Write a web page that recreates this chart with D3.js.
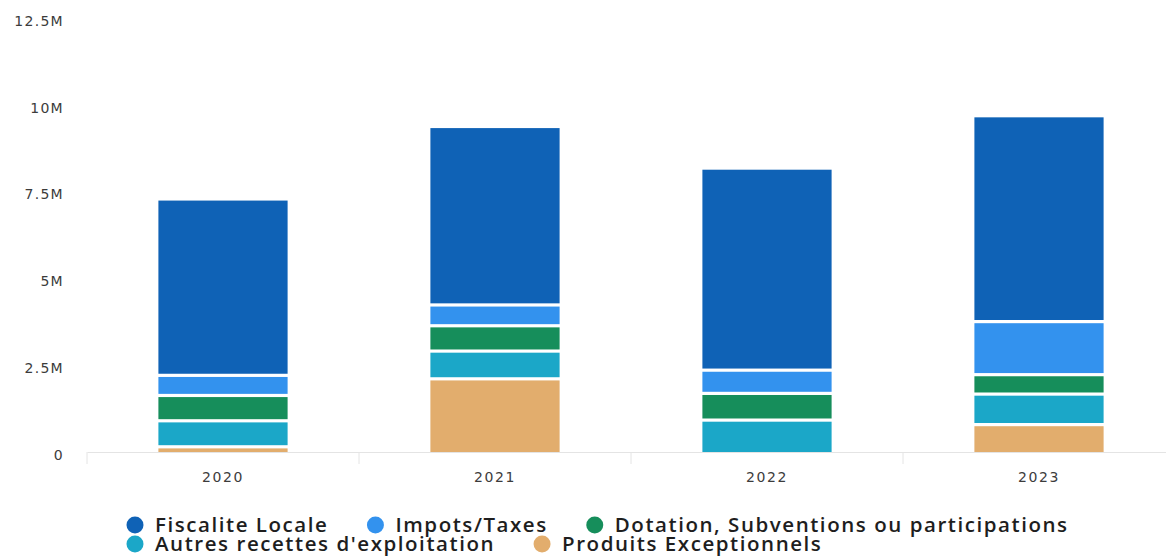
<!DOCTYPE html>
<html>
<head>
<meta charset="utf-8">
<script src="https://cdn.jsdelivr.net/npm/d3@7"></script>
<style>
  html, body { margin: 0; padding: 0; background: #fff; }
  svg { display: block; }
</style>
</head>
<body>
<svg id="chart" width="1166" height="560"></svg>
<script>
// Recettes par année et par nature (en euros)
const years = ["2020", "2021", "2022", "2023"];
const seriesNames = [
  "Produits Exceptionnels",
  "Autres recettes d'exploitation",
  "Dotation, Subventions ou participations",
  "Impots/Taxes",
  "Fiscalite Locale"
];
const produitsExceptionnels = [150000, 2110000, 0, 790000];
const autresRecettes       = [750000, 800000, 920000, 880000];
const dotations            = [730000, 730000, 770000, 560000];
const impotsTaxes          = [580000, 600000, 670000, 1530000];
const fiscaliteLocale      = [5040000, 5100000, 5780000, 5890000];

const yTicks = [0, 2500000, 5000000, 7500000, 10000000, 12500000];
const yTickLabels = ["0", "2.5M", "5M", "7.5M", "10M", "12.5M"];

const legendOrder = [
  "Fiscalite Locale",
  "Impots/Taxes",
  "Dotation, Subventions ou participations",
  "Autres recettes d'exploitation",
  "Produits Exceptionnels"
];
const colors = {
  "Fiscalite Locale": "#0f62b6",
  "Impots/Taxes": "#3392ee",
  "Dotation, Subventions ou participations": "#168e5b",
  "Autres recettes d'exploitation": "#1ba7c8",
  "Produits Exceptionnels": "#e2ad6d"
};

const seriesValues = [produitsExceptionnels, autresRecettes, dotations, impotsTaxes, fiscaliteLocale];
const rows = years.map((yr, i) => {
  const r = { year: yr };
  seriesNames.forEach((s, k) => { r[s] = seriesValues[k][i]; });
  return r;
});

const svg = d3.select("#chart");
const plot = { left: 87, right: 1175, top: 18.5, bottom: 452 };

const x = d3.scaleBand()
  .domain(years)
  .range([plot.left, plot.right])
  .paddingInner(0.525)
  .paddingOuter(0.2625);

const y = d3.scaleLinear()
  .domain([0, 12500000])
  .range([plot.bottom, plot.top]);

const stacked = d3.stack().keys(seriesNames)(rows);

// Baseline axis with category separators
const xAxis = d3.axisBottom(x).tickSize(0).tickPadding(0).tickFormat(() => "");
const gx = svg.append("g").attr("transform", `translate(0,${plot.bottom})`).call(xAxis);
gx.select(".domain").attr("stroke", "#e4e4e4").attr("stroke-width", 1);
const bounds = [plot.left].concat(years.slice(1).map(yr => x(yr) - x.step() * x.paddingInner() / 2));
gx.selectAll(".sep").data(bounds).enter().append("line")
  .attr("class", "sep")
  .attr("x1", d => d).attr("x2", d => d)
  .attr("y1", 0).attr("y2", 12)
  .attr("stroke", "#e4e4e4");

gx.selectAll(".yr").data(years).enter().append("text")
  .attr("class", "yr")
  .attr("x", d => x(d) + x.bandwidth() / 2)
  .attr("y", 30)
  .attr("text-anchor", "middle")
  .attr("font-family", "DejaVu Sans, sans-serif")
  .attr("font-size", 14)
  .attr("letter-spacing", 1.6)
  .attr("fill", "#3c3c3c")
  .text(d => d);

// Value axis labels
const yAxis = d3.axisLeft(y).tickValues(yTicks).tickSize(0).tickPadding(0)
  .tickFormat((d, i) => yTickLabels[i]);
const gy = svg.append("g").attr("transform", "translate(64,0)").call(yAxis);
gy.select(".domain").remove();
gy.selectAll("text")
  .attr("font-family", "DejaVu Sans, sans-serif")
  .attr("font-size", 14)
  .attr("letter-spacing", 1.3)
  .attr("fill", "#3c3c3c")
  .attr("dy", "0.5em");

// Stacked bars, separated by thin white gaps
const gap = 1.6;
const layers = svg.append("g").selectAll("g").data(stacked).enter().append("g")
  .attr("fill", d => colors[d.key]);
layers.selectAll("rect").data(d => d).enter().append("rect")
  .attr("x", d => x(d.data.year))
  .attr("width", x.bandwidth())
  .attr("y", d => {
    const total = seriesNames.reduce((s, k) => s + d.data[k], 0);
    return y(d[1]) + (d[1] >= total ? 0 : gap);
  })
  .attr("height", d => {
    const total = seriesNames.reduce((s, k) => s + d.data[k], 0);
    const top = y(d[1]) + (d[1] >= total ? 0 : gap);
    const bottom = y(d[0]) - (d[0] <= 0 ? 0 : gap);
    return Math.max(0, bottom - top);
  });

// Legend, flowing in rows
const legend = svg.append("g");
const legendStart = 135, legendMax = 1120;
const baselines = [532, 551];
let cx = legendStart, row = 0;
legendOrder.forEach(name => {
  const item = legend.append("g");
  const t = item.append("text")
    .attr("font-family", "Open Sans, sans-serif")
    .attr("font-weight", 600)
    .attr("font-size", 20.5)
    .attr("letter-spacing", 1.55)
    .attr("fill", "#1e1e1e")
    .text(name);
  const w = t.node().getComputedTextLength();
  if (cx + 20 + w > legendMax && cx !== legendStart) { row += 1; cx = legendStart; }
  item.append("circle")
    .attr("cx", cx).attr("cy", baselines[row] - 7).attr("r", 8.5)
    .attr("fill", colors[name]);
  t.attr("x", cx + 20).attr("y", baselines[row]);
  cx += 20 + w + 47;
});
</script>
</body>
</html>
